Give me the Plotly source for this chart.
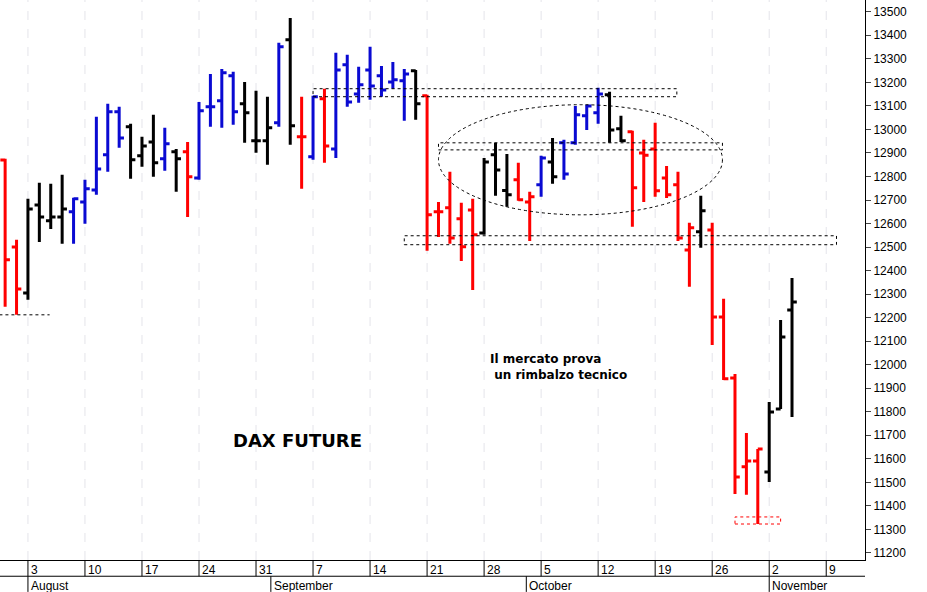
import plotly.graph_objects as go

idx = list(range(-2, 68))
opens = [12870,12500,12305,12679,12612,12628,12650,12692,12743,12892,13075,13011,12888,12947,12875,12905,12905,12794,13096,13122,13228,13109,12952,12952,13028,13381,12969,12884,13130,12917,13275,13151,13253,13228,13202,13207,13249,13143,12650,12667,12620,12658,12560,12892,12740,12786,12692,12765,12862,12943,12943,13058,13071,13147,13003,12990,12900,12917,12794,12765,12488,12565,12573,12203,11944,11566,11591,11544,11812,12233]
highs = [12875,12531,12705,12773,12769,12807,12710,12786,13054,13109,13096,13024,12969,13062,13007,12917,12947,13117,13236,13257,13245,13202,13164,13139,13368,13474,13139,13143,13173,13326,13317,13266,13351,13270,13287,13257,13253,13147,12692,12820,12688,12705,12879,12943,12896,12858,12735,12888,12964,12956,13100,13105,13177,13160,13058,12994,12956,13028,12845,12820,12603,12718,12603,12280,11961,11710,11642,11842,12190,12369]
lows = [12246,12212,12276,12522,12577,12514,12514,12599,12722,12820,12922,12790,12841,12799,12824,12735,12628,12786,13011,13007,13020,12943,12901,12850,13011,12935,12748,12871,12858,12879,13096,13113,13126,13139,13173,13037,13041,12484,12543,12514,12441,12318,12552,12718,12671,12697,12526,12714,12769,12786,12935,12998,13024,12943,12947,12586,12692,12714,12709,12526,12331,12497,12084,11935,11451,11447,11323,11502,11812,11778]
closes = [12446,12322,12662,12628,12628,12662,12705,12748,12832,13075,12964,12871,12930,12858,12939,12875,12799,13079,13096,13241,13075,13071,12952,13007,13351,13016,12969,13139,12930,13253,13117,13190,13185,13168,13211,13236,13109,12637,12650,12539,12501,12552,12862,12828,12722,12701,12714,12879,12799,12811,13062,13100,13151,12998,12952,12752,12890,12739,12722,12539,12582,12654,12203,11940,11523,11591,11642,11799,12118,12267]
colors = list("RRKKKKBBBBBKKKBKRBBBBKKKBKRBRBBBBBBBKRRRRRKKKRRBKBBBBKKRRRRRRKRRRRRKKK")

week_pos = [0,5,10,15,20,25,30,35,40,45,50,55,60,65,70]
week_labels = ["3","10","17","24","31","7","14","21","28","5","12","19","26","2","9"]
months = [("August",0),("September",21.3),("October",43.7),("November",65)]
yticks = list(range(11200, 13600, 100))

cmap = {"R":"#ff0000","B":"#0a0ad2","K":"#000000"}
fig = go.Figure()
for c in "RBK":
    sel = [i for i in range(len(idx)) if colors[i] == c]
    fig.add_trace(go.Ohlc(
        x=[idx[i] for i in sel], open=[opens[i] for i in sel], high=[highs[i] for i in sel],
        low=[lows[i] for i in sel], close=[closes[i] for i in sel],
        increasing=dict(line=dict(color=cmap[c], width=3)),
        decreasing=dict(line=dict(color=cmap[c], width=3)),
        tickwidth=0.42, hoverinfo="skip", showlegend=False))

dash = dict(color="black", width=1, dash="dot")
shapes = [
    dict(type="rect", x0=25, x1=56.9, y0=13139, y1=13173, line=dash),
    dict(type="rect", x0=36, x1=60.9, y0=12913, y1=12943, line=dash),
    dict(type="rect", x0=33, x1=70.9, y0=12510, y1=12548, line=dash),
    dict(type="line", x0=-2.5, x1=1.9, y0=12212, y1=12212, line=dash),
    dict(type="rect", x0=62, x1=66, y0=11323, y1=11353, line=dict(color="red", width=1, dash="dot")),
    dict(type="circle", x0=36, x1=60.9, y0=12637, y1=13105, line=dash),
]
for p in week_pos:
    shapes.append(dict(type="line", x0=p, x1=p, y0=11170, y1=13550, line=dict(color="#e4e4ea", width=1, dash="dash"), layer="below"))
    shapes.append(dict(type="line", xref="x", yref="paper", x0=p, x1=p, y0=0, y1=-0.029, line=dict(color="black", width=1)))
for m, p in months:
    shapes.append(dict(type="line", xref="x", yref="paper", x0=p, x1=p, y0=-0.029, y1=-0.057, line=dict(color="black", width=1)))
shapes.append(dict(type="line", xref="paper", yref="paper", x0=0, x1=1, y0=-0.029, y1=-0.029, line=dict(color="black", width=1)))

lf = dict(size=12, family="Liberation Sans Narrow, Arial Narrow, Liberation Sans", color="black")
ann = []
for p, l in zip(week_pos, week_labels):
    ann.append(dict(x=p+0.1, y=-0.001, xref="x", yref="paper", text=l, showarrow=False, xanchor="left", yanchor="top", font=lf))
for m, p in months:
    ann.append(dict(x=p+0.1, y=-0.03, xref="x", yref="paper", text=m, showarrow=False, xanchor="left", yanchor="top", font=lf))
ann.append(dict(x=23.6, y=11680, text="<b>DAX FUTURE</b>", showarrow=False, font=dict(size=18, family="Verdana, DejaVu Sans", color="black")))
ann.append(dict(x=46.5, y=11990, text="<b>Il mercato prova<br> un rimbalzo tecnico</b>", showarrow=False, align="left",
                font=dict(size=12, family="Verdana, DejaVu Sans", color="black")))

fig.update_layout(
    width=927, height=592, margin=dict(l=0, r=62, t=0, b=32, pad=0, autoexpand=False),
    paper_bgcolor="white", plot_bgcolor="white",
    shapes=shapes, annotations=ann,
    xaxis=dict(range=[-2.45, 73.4], showticklabels=False, showgrid=False, zeroline=False, automargin=False,
               rangeslider=dict(visible=False), showline=True, linecolor="black", mirror=True, ticks=""),
    yaxis=dict(range=[11170, 13550], side="right", tickvals=yticks, ticktext=[str(v) for v in yticks], automargin=False,
               showgrid=False, zeroline=False, ticks="outside", ticklen=5, showline=True, linecolor="black", mirror=True,
               tickfont=lf),
)
fig.write_html("out.html", config={"displayModeBar": False},
               post_script="document.body.style.margin='0';document.body.style.overflow='hidden';")
